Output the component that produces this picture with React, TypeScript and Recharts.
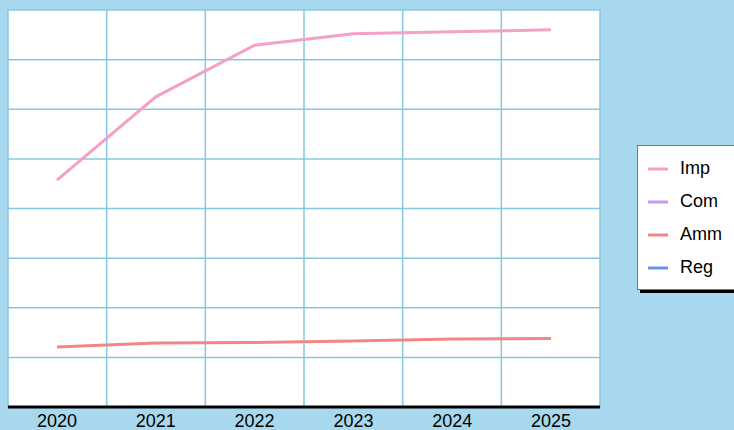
import React from "react";
import { LineChart, Line, XAxis, YAxis, CartesianGrid } from "recharts";

const years = ["2020", "2021", "2022", "2023", "2024", "2025"];
const imp = [45.7, 62.5, 72.9, 75.2, 75.6, 76.0];
const com: (number | null)[] = [null, null, null, null, null, null];
const amm = [12.1, 12.9, 13.0, 13.3, 13.7, 13.8];
const reg: (number | null)[] = [null, null, null, null, null, null];
const yTicks = [0, 10, 20, 30, 40, 50, 60, 70, 80];

const seriesNames = ["Imp", "Com", "Amm", "Reg"];
const seriesColors = ["#f4a0c8", "#c39bef", "#f28585", "#6495ed"];

const data = years.map((year, i) => ({
  year,
  Imp: imp[i],
  Com: com[i],
  Amm: amm[i],
  Reg: reg[i],
}));

const FONT = '"Liberation Sans", Arial, sans-serif';

function LegendBox() {
  return (
    <div
      style={{
        position: "absolute",
        left: 637,
        top: 145,
        background: "#fff",
        border: "1px solid #777",
        boxShadow: "3px 3px 0 #000",
        padding: "6px 0 5px 10px",
        width: 120,
        fontFamily: FONT,
        fontSize: 18,
        color: "#000",
      }}
    >
      {seriesNames.map((name, i) => (
        <div key={name} style={{ display: "flex", alignItems: "center", height: 33 }}>
          <svg width={20} height={4} style={{ marginRight: 12 }}>
            <line x1={0} y1={2} x2={20} y2={2} stroke={seriesColors[i]} strokeWidth={3} />
          </svg>
          <span>{name}</span>
        </div>
      ))}
    </div>
  );
}

export default function App() {
  return (
    <div
      style={{
        position: "absolute",
        left: 0,
        top: 0,
        width: 734,
        height: 430,
        background: "#a8d8ee",
        overflow: "hidden",
      }}
    >
      <LineChart
        width={734}
        height={430}
        data={data}
        margin={{ top: 10, left: 8, right: 134, bottom: 0 }}
        style={{ fontFamily: FONT }}
      >
        <CartesianGrid
          stroke="#86c7e0"
          strokeWidth={1.5}
          fill="#ffffff"
          verticalCoordinatesGenerator={({ offset }: any) =>
            years
              .map((_, i) => offset.left + (i * offset.width) / years.length)
              .concat(offset.left + offset.width)
          }
        />
        <XAxis
          dataKey="year"
          padding={{ left: 49, right: 49 }}
          axisLine={{ stroke: "#000", strokeWidth: 3 }}
          tickLine={false}
          tick={{ fontSize: 18, fill: "#000", fontFamily: FONT }}
          tickMargin={1}
          interval={0}
          height={23}
        />
        <YAxis hide domain={[0, 80]} ticks={yTicks} />
        {seriesNames.map((name, i) => (
          <Line
            key={name}
            dataKey={name}
            stroke={seriesColors[i]}
            strokeWidth={3}
            dot={false}
            isAnimationActive={false}
          />
        ))}
      </LineChart>
      <LegendBox />
    </div>
  );
}
